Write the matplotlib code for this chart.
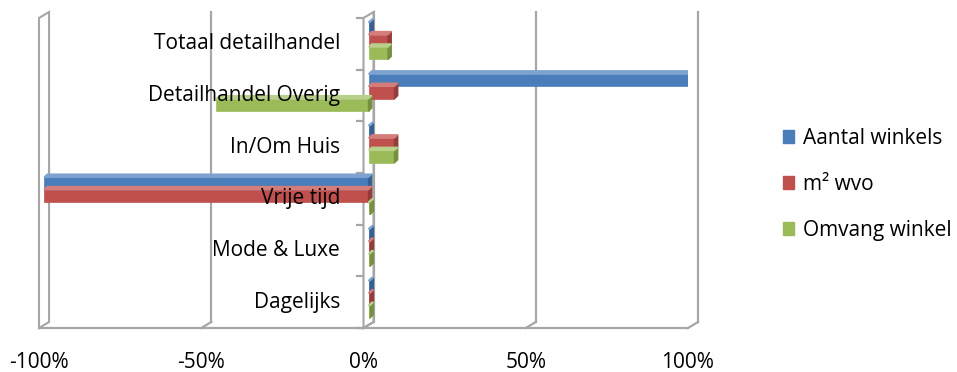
import numpy as np
import matplotlib.pyplot as plt
from matplotlib.patches import Polygon, Rectangle
from matplotlib.ticker import FuncFormatter

plt.rcParams["font.family"] = ["Open Sans", "DejaVu Sans"]

categories = ["Dagelijks", "Mode & Luxe", "Vrije tijd", "In/Om Huis",
              "Detailhandel Overig", "Totaal detailhandel"]
series_names = ["Aantal winkels", "m² wvo", "Omvang winkel"]
aantal_winkels = [0.005, 0.005, -1.00, 0.005, 1.00, 0.005]
m2_wvo = [0.005, 0.005, -1.00, 0.08, 0.08, 0.06]
omvang_winkel = [0.005, 0.005, 0.005, 0.08, -0.47, 0.06]
x_ticks = [-1.0, -0.5, 0.0, 0.5, 1.0]

colors = ["#4a7ebb", "#c0504d", "#9bbb59"]
dark = ["#35608f", "#943c3a", "#76903f"]
light = ["#7da2d0", "#d47d7a", "#b8d08a"]
grid_c = "#a6a6a6"

fig = plt.figure(figsize=(9.57, 3.72), dpi=100)
ax = fig.add_axes([39 / 957, 1 - 328 / 372, 649 / 957, 310 / 372])
ax.set_xlim(-1.0, 1.0)
ax.set_ylim(-0.5, 5.5)
for s in ax.spines.values():
    s.set_visible(False)
ax.set_yticks([])
ax.set_xticks(x_ticks)
ax.xaxis.set_major_formatter(FuncFormatter(lambda v, p: f"{v:.0%}"))
ax.tick_params(axis="x", length=0, pad=17, labelsize=15)

# depth of the 3d box (in data units)
dx, dy = 0.031, 0.116
y0, y1 = -0.5, 5.5
kw = dict(color=grid_c, lw=1.6, zorder=1, clip_on=False)

# back wall gridlines with slant to the floor edge
for xv in x_ticks[1:]:
    ax.plot([xv + dx, xv + dx], [y0 + dy, y1 + dy], **kw)
    ax.plot([xv, xv + dx], [y0, y0 + dy], **kw)
# left wall
ax.add_patch(Polygon([(-1.0, y0), (-1.0, y1), (-1.0 + dx, y1 + dy), (-1.0 + dx, y0 + dy)],
                     closed=True, fill=False, edgecolor=grid_c, lw=1.5, zorder=1,
                     clip_on=False))
# floor front edge
ax.plot([-1.0, 1.0], [y0, y0], **kw)
# zero wall
ax.add_patch(Polygon([(0.0, y0), (0.0, y1), (dx, y1 + dy), (dx, y0 + dy)],
                     closed=True, fill=False, edgecolor=grid_c, lw=1.5, zorder=1,
                     clip_on=False))
for yb in np.arange(y0, y1 + 0.1, 1.0):
    ax.plot([-0.02, 0.0], [yb, yb], **kw)

h = 0.24
offsets = [h, 0.0, -h]
ypos = np.arange(len(categories)) + dy / 2
cap = 0.01
for vals, off, c, dc, lc, name in zip([aantal_winkels, m2_wvo, omvang_winkel],
                                       offsets, colors, dark, light, series_names):
    ax.barh(ypos + off, vals, left=dx / 2, height=h, color=c, edgecolor=c, lw=0.5,
            zorder=3, label=name)
    for y, v in zip(ypos + off, vals):
        xa, xb = min(v, 0.0) + dx / 2, max(v, 0.0) + dx / 2
        ax.add_patch(Polygon([(xb, y - h / 2), (xb + cap, y - h / 2 + 0.06),
                              (xb + cap, y + h / 2 + 0.06), (xb, y + h / 2)],
                             closed=True, color=dc, zorder=3))
        ax.add_patch(Polygon([(xa, y + h / 2), (xa + cap, y + h / 2 + 0.06),
                              (xb + cap, y + h / 2 + 0.06), (xb, y + h / 2)],
                             closed=True, color=lc, zorder=3))

for y, cat in zip(np.arange(len(categories)), categories):
    ax.text(-0.072, y, cat, ha="right", va="center", fontsize=15, zorder=5)

handles = [Rectangle((0, 0), 1, 1, facecolor=c, edgecolor=c) for c in colors]
fig.legend(handles, series_names, loc="center left", bbox_to_anchor=(783 / 957, 0.505),
           frameon=False, fontsize=15, labelspacing=1.2, handlelength=0.55,
           handleheight=0.55, handletextpad=0.4, borderpad=0, borderaxespad=0)

fig.savefig("out.png", dpi=100)
